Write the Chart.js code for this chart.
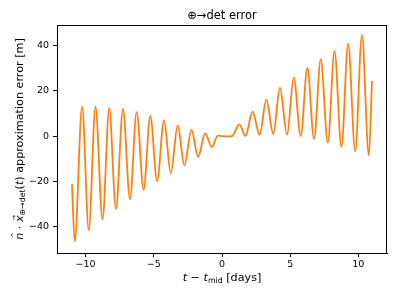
<!DOCTYPE html>
<html>
<head>
<meta charset="utf-8">
<script src="https://cdn.jsdelivr.net/npm/chart.js@4"></script>
<style>
  html, body { margin: 0; padding: 0; background: #fff; }
  #chart { display: block; }
</style>
</head>
<body>
<canvas id="chart" width="399" height="299"></canvas>
<script>
// === DATA (extrema of the oscillation) ===
const tDays = [-11.0, -10.8, -10.26, -9.77, -9.28, -8.76, -8.27, -7.78, -7.26, -6.75,
  -6.26, -5.75, -5.26, -4.76, -4.25, -3.76, -3.25, -2.76, -2.24, -1.75,
  -1.24, -0.75, -0.3, 0.0, 0.3, 0.72, 1.27, 1.72, 2.24, 2.76,
  3.25, 3.76, 4.25, 4.77, 5.26, 5.77, 6.26, 6.75, 7.24, 7.76,
  8.25, 8.76, 9.25, 9.77, 10.26, 10.77, 11.0];
const errM = [-21.2, -46.5, 13.0, -41.5, 13.0, -36.8, 12.5, -32.2, 12.0, -27.9,
  10.7, -23.7, 9.0, -19.9, 7.1, -16.4, 4.8, -12.9, 2.8, -9.2,
  1.2, -4.8, 0.2, 0.0, -0.1, 0.0, 5.2, 0.1, 10.8, 0.6,
  16.1, 0.9, 21.4, 0.6, 25.9, 0.0, 30.1, -1.2, 33.9, -2.9,
  37.5, -4.7, 40.9, -6.7, 44.6, -8.5, 24.4];
const xTicks = [-10, -5, 0, 5, 10];
const yTicks = [-40, -20, 0, 20, 40];

const titleText = "⊕→det error";
const xLabel = [
  { t: "t", it: true }, { t: " − " }, { t: "t", it: true }, { t: "mid", sub: true }, { t: " [days]" }
];
const yLabel = [
  { t: "n", it: true, acc: "^" }, { t: " · " }, { t: "x", it: true, acc: "→" },
  { t: "⊕→det", sub: true }, { t: "(" }, { t: "t", it: true }, { t: ")" },
  { t: " approximation error [m]" }
];

const FONT = "'DejaVu Sans', sans-serif";
const minus = v => (v < 0 ? "−" + Math.abs(v) : String(v));

// === RICH TEXT (italic, subscripts, accents) ===
function segFont(s, size) {
  const sz = s.sub ? size * 0.7 : size;
  return `${s.it ? "italic " : ""}${sz}px ${FONT}`;
}
function drawRich(ctx, segs, size) {
  let w = 0;
  segs.forEach(s => { ctx.font = segFont(s, size); s.w = ctx.measureText(s.t).width; w += s.w; });
  let x = -w / 2;
  ctx.textBaseline = "alphabetic";
  ctx.textAlign = "left";
  segs.forEach(s => {
    ctx.font = segFont(s, size);
    ctx.fillText(s.t, x, s.sub ? size * 0.22 : 0);
    if (s.acc) {
      ctx.font = `${size * 0.6}px ${FONT}`;
      const aw = ctx.measureText(s.acc).width;
      ctx.fillText(s.acc, x + s.w / 2 - aw / 2 + size * 0.1, -size * 0.6);
    }
    x += s.w;
  });
}

const decorPlugin = {
  id: "decor",
  afterDraw(chart) {
    const { ctx, chartArea: a } = chart;
    ctx.save();
    ctx.strokeStyle = "#000";
    ctx.lineWidth = 1;
    ctx.strokeRect(Math.round(a.left) + 0.5, Math.round(a.top) + 0.5,
      Math.round(a.right - a.left) - 1, Math.round(a.bottom - a.top));
    ctx.fillStyle = "#000";
    const cx = (a.left + a.right) / 2;
    ctx.font = `11.5px ${FONT}`;
    ctx.textAlign = "center";
    ctx.textBaseline = "alphabetic";
    ctx.fillText(titleText, cx, 19);
    ctx.save();
    ctx.translate(cx, 281);
    drawRich(ctx, xLabel, 11.2);
    ctx.restore();
    ctx.save();
    ctx.translate(23, (a.top + a.bottom) / 2);
    ctx.rotate(-Math.PI / 2);
    drawRich(ctx, yLabel, 11.2);
    ctx.restore();
    ctx.restore();
  }
};

const tickFont = { family: FONT, size: 9.5 };

new Chart(document.getElementById("chart"), {
  type: "line",
  data: {
    datasets: [{
      data: tDays.map((t, i) => ({ x: t, y: errM[i] })),
      borderColor: "#ff7f0e",
      borderWidth: 1.8,
      pointRadius: 0,
      cubicInterpolationMode: "monotone",
      fill: false
    }]
  },
  options: {
    responsive: false,
    animation: false,
    layout: { padding: { top: 25, right: 12, left: 0, bottom: 0 } },
    plugins: { legend: { display: false }, tooltip: { enabled: false } },
    scales: {
      x: {
        type: "linear", min: -12.1, max: 12.1,
        afterBuildTicks: s => { s.ticks = xTicks.map(v => ({ value: v })); },
        afterFit: s => { s.height = 46; },
        grid: { drawOnChartArea: false, color: "#000", tickLength: 4 },
        border: { display: true, color: "#000", width: 1 },
        ticks: { color: "#000", font: tickFont, padding: 2, maxRotation: 0, callback: minus }
      },
      y: {
        type: "linear", min: -51.6, max: 49.1,
        afterBuildTicks: s => { s.ticks = yTicks.map(v => ({ value: v })); },
        afterFit: s => { s.width = 57; },
        grid: { drawOnChartArea: false, color: "#000", tickLength: 4 },
        border: { display: true, color: "#000", width: 1 },
        ticks: { color: "#000", font: tickFont, padding: 4, callback: minus }
      }
    }
  },
  plugins: [decorPlugin]
});
</script>
</body>
</html>
